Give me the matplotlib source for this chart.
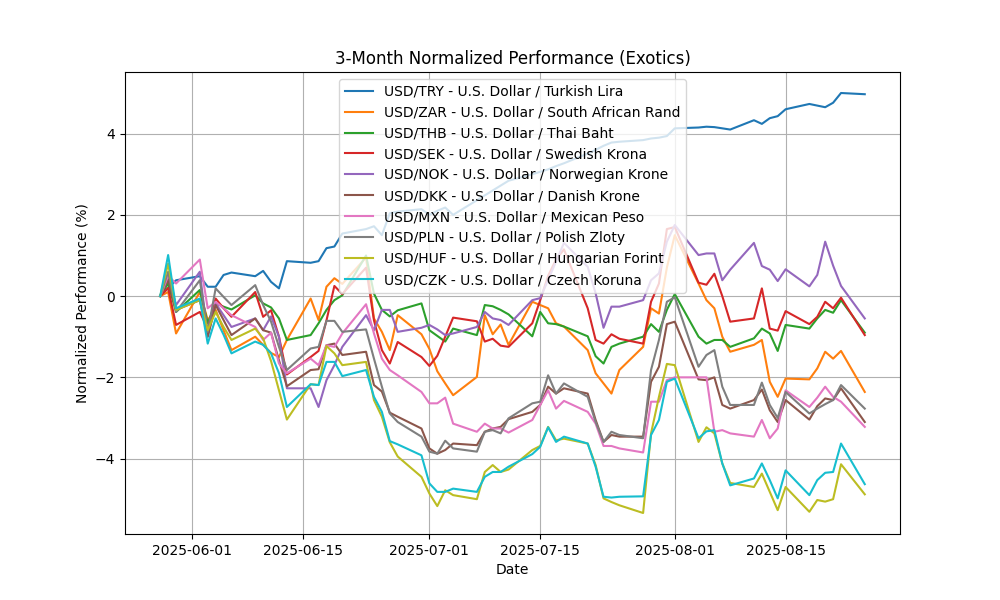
"""3-month normalized performance of exotic USD pairs."""

import matplotlib

matplotlib.use("Agg")

import matplotlib.pyplot as plt  # noqa: E402
import pandas as pd  # noqa: E402

# business days 2025-05-28 .. 2025-08-25 (64 sessions)
dates = pd.bdate_range("2025-05-28", "2025-08-25")

labels = [
    "USD/TRY - U.S. Dollar / Turkish Lira",
    "USD/ZAR - U.S. Dollar / South African Rand",
    "USD/THB - U.S. Dollar / Thai Baht",
    "USD/SEK - U.S. Dollar / Swedish Krona",
    "USD/NOK - U.S. Dollar / Norwegian Krone",
    "USD/DKK - U.S. Dollar / Danish Krone",
    "USD/MXN - U.S. Dollar / Mexican Peso",
    "USD/PLN - U.S. Dollar / Polish Zloty",
    "USD/HUF - U.S. Dollar / Hungarian Forint",
    "USD/CZK - U.S. Dollar / Czech Koruna",
]

try_vals = [0, 0.2, 0.39,
            0.49, 0.23, 0.23, 0.52, 0.58,
            0.49, 0.62, 0.35, 0.19, 0.86,
            0.82, 0.86, 1.18, 1.22, 1.54,
            1.65, 1.72, 1.5, 2.04, 2.08,
            2.14, 2.0, 2.1, 2.18, 2.0,
            2.36, 2.48, 2.6, 2.72, 2.84,
            3.0, 3.06, 3.12, 3.2, 3.27,
            3.51, 3.6, 3.7, 3.78, 3.8,
            3.84, 3.88, 3.9, 3.94, 4.13,
            4.15, 4.17, 4.16, 4.13, 4.1,
            4.33, 4.24, 4.38, 4.43, 4.6,
            4.73, 4.69, 4.65, 4.76, 5.0,
            4.97]
zar_vals = [0, 0.1, -0.92,
            0.1, -0.59, -0.34, -0.84, -1.33,
            -1.0, -1.2, -1.4, -1.5, -1.08,
            -0.06, -0.59, 0.23, 0.44, 0.3,
            0.95, -0.55, -0.88, -1.33, -0.47,
            -0.94, -1.3, -1.85, -2.15, -2.44,
            -1.99, -0.47, -0.94, -0.7, -1.2,
            -0.14, -0.22, -0.3, -0.67, -0.75,
            -1.33, -1.9, -2.15, -2.4, -1.82,
            -1.25, -0.3, -0.43, 0.7, 1.5,
            0.31, -0.1, -0.3, -1.0, -1.37,
            -1.2, -1.08, -2.11, -2.48, -2.03,
            -2.05, -1.78, -1.37, -1.54, -1.35,
            -2.36]
thb_vals = [0, 0.31, -0.39,
            0.15, -0.67, -0.18, -0.26, -0.33,
            0.02, -0.18, -0.28, -0.55, -1.08,
            -0.96, -0.67, -0.34, -0.1, 0.02,
            1.0, 0.06, -0.34, -0.5, -0.35,
            -0.18, -0.84, -0.98, -1.12, -0.8,
            -0.96, -0.22, -0.25, -0.34, -0.45,
            -0.99, -0.39, -0.67, -0.69, -0.75,
            -0.99, -1.48, -1.66, -1.25, -1.17,
            -1.0, -0.69, -0.88, -0.34, 0.05,
            -1.0, -1.17, -1.08, -1.08, -1.25,
            -1.04, -0.8, -0.92, -1.35, -0.71,
            -0.8, -0.55, -0.34, -0.41, -0.1,
            -0.9]
sek_vals = [0, 0.2, -0.71,
            -0.39, -0.8, -0.06, -0.3, -0.51,
            0.1, -0.51, -0.35, -1.0, -1.93,
            -1.5, -1.35, -0.6, 0.25, 0.05,
            0.7, -0.6, -1.33, -1.66, -1.13,
            -1.5, -1.72, -1.47, -1.0, -0.53,
            -0.62, -1.12, -1.05, -1.22, -1.25,
            -0.67, -0.1, 0.5, 0.9, 1.15,
            -0.3, -1.08, -1.17, -0.94, -1.05,
            -1.17, -0.14, 0.31, 1.65, 1.7,
            0.33, 0.28, 0.55, 0.0, -0.63,
            -0.55, 0.19, -0.8, -0.85, -0.37,
            -0.69, -0.51, -0.14, -0.3, -0.04,
            -0.96]
nok_vals = [0, 0.45, -0.22,
            0.6, -1.0, -0.18, -0.47, -0.76,
            -0.55, -0.84, -0.5, -1.0, -2.27,
            -2.27, -2.73, -2.07, -1.7, -1.25,
            -0.47, -0.84, -0.34, -0.34, -0.88,
            -0.78, -0.71, -0.82, -0.96, -0.92,
            -0.76, -0.39, -0.55, -0.59, -0.71,
            -0.1, -0.05, 0.4, 0.85, 1.31,
            0.72, 0.07, -0.78, -0.26, -0.26,
            -0.1, 0.39, 0.56, 1.34, 1.75,
            1.01, 1.05, 1.05, 0.39, 0.65,
            1.31, 0.74, 0.65, 0.37, 0.66,
            0.24, 0.52, 1.34, 0.75, 0.25,
            -0.55]
dkk_vals = [0, 0.4, -0.34,
            -0.1, -1.0, -0.22, -0.59, -0.96,
            -0.55, -0.84, -0.9, -1.58, -2.22,
            -1.82, -1.8, -1.21, -1.17, -1.45,
            -1.37, -2.19, -2.35, -2.87, -2.97,
            -3.26, -3.75, -3.88, -3.79, -3.63,
            -3.67, -3.34, -3.26, -3.22, -3.03,
            -2.85, -2.68, -2.23, -2.4, -2.27,
            -2.4, -3.05, -3.59, -3.42, -3.46,
            -3.46, -2.11, -1.74, -0.69, -0.63,
            -2.05, -2.07, -2.0, -2.68, -2.77,
            -2.56, -2.3, -2.81, -3.1, -2.56,
            -3.04, -2.71, -2.52, -2.56, -2.27,
            -3.1]
mxn_vals = [0, 0.5, 0.31,
            0.9, -0.3, -0.14, -0.3, -0.47,
            -0.76, -1.08, -0.9, -1.66, -1.9,
            -1.54, -1.7, -1.21, -1.25, -0.92,
            -0.2, -0.92, -1.54, -1.82, -1.95,
            -2.36, -2.64, -2.64, -2.5, -3.14,
            -3.34, -3.14, -3.26, -3.26, -3.36,
            -3.05, -2.68, -2.32, -2.77, -2.58,
            -2.85, -3.14, -3.69, -3.69, -3.75,
            -3.85, -2.6, -2.6, -2.07, -2.0,
            -2.0, -2.0, -3.34, -3.3, -3.38,
            -3.46, -3.05, -3.5, -3.26, -2.32,
            -2.73, -2.5, -2.23, -2.48, -2.6,
            -3.22]
pln_vals = [0, 0.6, -0.39,
            0.39, -0.88, 0.19, -0.02, -0.22,
            0.27, -0.22, -0.63, -1.25, -1.82,
            -1.29, -1.25, -0.61, -0.61, -0.88,
            -0.82, -1.54, -2.23, -2.89, -3.1,
            -3.46, -3.83, -3.88, -3.56, -3.75,
            -3.83, -3.34, -3.3, -3.38, -3.01,
            -2.64, -2.6, -1.95, -2.4, -2.15,
            -2.48, -3.1, -3.59, -3.34, -3.42,
            -3.5, -1.82, -1.08, -0.14, -0.03,
            -1.74, -1.45, -1.33, -2.23, -2.68,
            -2.68, -2.13, -2.68, -3.0, -2.36,
            -2.89, -2.77, -2.66, -2.56, -2.19,
            -2.77]
huf_vals = [0, 0.8, -0.34,
            -0.1, -0.84, -0.39, -0.76, -1.08,
            -0.8, -1.04, -1.6, -2.32, -3.04,
            -2.17, -2.19, -1.23, -1.41, -1.7,
            -1.62, -2.56, -2.97, -3.6, -3.95,
            -4.45, -4.86, -5.17, -4.78, -4.9,
            -5.0, -4.33, -4.16, -4.33, -4.27,
            -3.79, -3.69, -3.22, -3.55, -3.51,
            -3.63, -4.16, -4.98, -5.07, -5.15,
            -5.34, -3.38, -2.48, -1.67, -1.7,
            -3.59, -3.23, -3.38, -4.12, -4.6,
            -4.7, -4.37, -4.82, -5.27, -4.7,
            -5.31, -5.02, -5.06, -5.0, -4.14,
            -4.88]
czk_vals = [0, 1.01, -0.3,
            -0.06, -1.17, -0.55, -0.95, -1.41,
            -1.12, -1.2, -1.41, -1.9, -2.73,
            -2.17, -2.19, -1.62, -1.62, -1.97,
            -1.82, -2.48, -2.85, -3.57, -3.65,
            -3.92, -4.61, -4.82, -4.82, -4.74,
            -4.82, -4.45, -4.33, -4.33, -4.2,
            -3.89, -3.71, -3.23, -3.59, -3.46,
            -3.63, -4.2, -4.94, -4.96, -4.94,
            -4.93, -3.42, -3.05, -2.11, -2.03,
            -3.5, -3.33, -3.3, -4.12, -4.66,
            -4.49, -4.12, -4.53, -4.98, -4.29,
            -4.9, -4.53, -4.35, -4.33, -3.63,
            -4.63]

series = [try_vals, zar_vals, thb_vals, sek_vals, nok_vals,
          dkk_vals, mxn_vals, pln_vals, huf_vals, czk_vals]

fig, ax = plt.subplots(figsize=(10, 6))
for label, vals in zip(labels, series):
    assert len(vals) == len(dates), (label, len(vals))
    ax.plot(dates, vals, label=label)

ax.set_title("3-Month Normalized Performance (Exotics)")
ax.set_xlabel("Date")
ax.set_ylabel("Normalized Performance (%)")
ax.grid(True)
ax.legend(loc="upper center")

fig.savefig("out.png", dpi=100)
plt.close(fig)
